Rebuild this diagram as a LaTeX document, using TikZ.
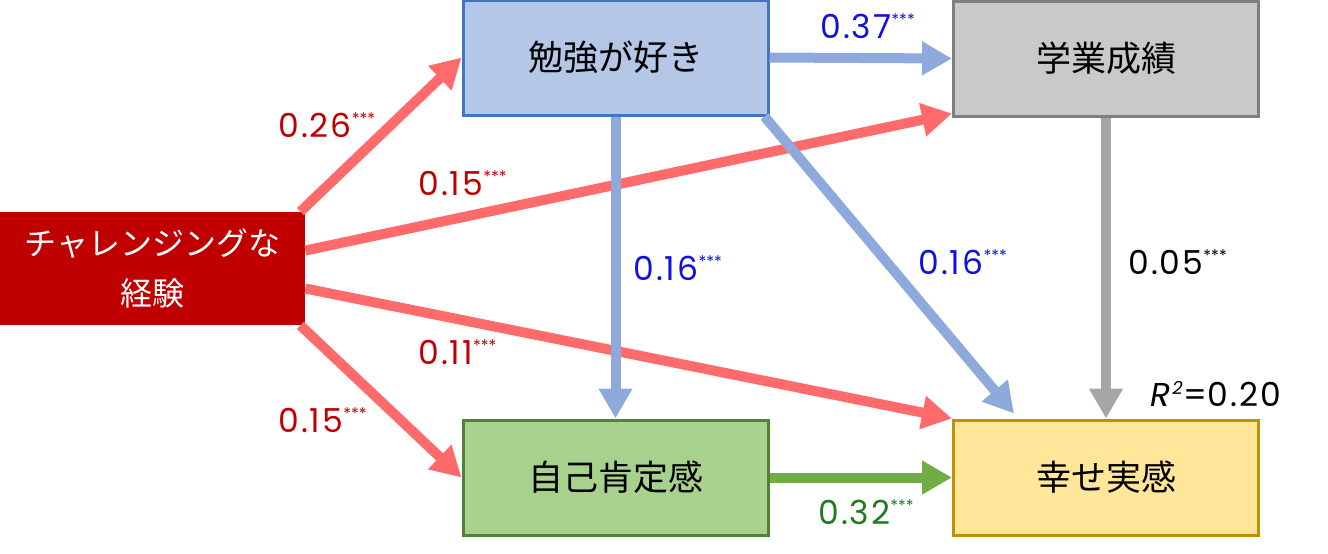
\documentclass[tikz,border=0pt]{standalone}
\usepackage{fontspec}
\setmainfont{Poppins}
\newfontfamily\jp{Noto Sans CJK JP}
\usetikzlibrary{arrows.meta,calc}
\definecolor{redbox}{HTML}{C00000}
\definecolor{redarr}{HTML}{FF6B6B}
\definecolor{bluearr}{HTML}{8EA9DB}
\definecolor{grayarr}{HTML}{A6A6A6}
\definecolor{greenarr}{HTML}{70AD47}
\definecolor{bluefill}{HTML}{B4C7E7}
\definecolor{blueline}{HTML}{4472C4}
\definecolor{grayfill}{HTML}{C9C9C9}
\definecolor{grayline}{HTML}{7F7F7F}
\definecolor{greenfill}{HTML}{A9D18E}
\definecolor{greenline}{HTML}{548235}
\definecolor{yelfill}{HTML}{FFE699}
\definecolor{yelline}{HTML}{BF9000}
\definecolor{redtxt}{HTML}{C00000}
\definecolor{bluetxt}{HTML}{1010E0}
\definecolor{greentxt}{HTML}{1E7B1E}
\tikzset{
  box/.style={draw, line width=1.5pt, minimum width=152.5pt, minimum height=57.5pt, font=\jp\fontsize{17.5}{20}\selectfont, inner sep=0pt},
  arr/.style={line width=5pt, -{Triangle[length=15pt,width=16pt]}},
  lbl/.style={font=\fontsize{16.5}{18}\selectfont\addfontfeatures{LetterSpace=6}, inner sep=0pt},
}
\newcommand{\stars}{\textsuperscript{\fontsize{8}{8}\selectfont\addfontfeatures{LetterSpace=0}***}}
\begin{document}
\begin{tikzpicture}[x=0.5pt,y=-0.5pt]
\useasboundingbox (0,0) rectangle (1328,553);
% nodes
\node[fill=redbox, text=white, minimum width=152.5pt, minimum height=56.5pt, inner sep=0pt, align=center, font=\jp\fontsize{16}{25}\selectfont] (ch) at (152.5,268.5) {チャレンジングな\\経験};
\node[box, fill=bluefill, draw=blueline] (st) at (615.5,57.5) {勉強が好き};
\node[box, fill=grayfill, draw=grayline] (gk) at (1106,58.5) {学業成績};
\node[box, fill=greenfill, draw=greenline] (jk) at (615.5,477.5) {自己肯定感};
\node[box, fill=yelfill, draw=yelline] (hp) at (1106,477.5) {幸せ実感};
% anchor coordinates
\coordinate (c1) at ($(ch.north east)+(-5,0)$);
\coordinate (c2) at ($(ch.east)+(0,-18)$);
\coordinate (c3) at ($(ch.east)+(0,20)$);
\coordinate (c4) at ($(ch.south east)+(-5,0)$);
\coordinate (gkin) at ($(gk.south west)+(0,-4)$);
\coordinate (hpin) at ($(hp.north west)+(0,0)$);
\coordinate (hpin2) at ($(hp.north west)+(62,-5)$);
\coordinate (stout) at ($(st.south east)+(-5,0)$);
% arrows
\draw[arr, redarr] (c1) -- (st.west);
\draw[arr, redarr] (c2) -- (gkin);
\draw[arr, redarr] (c3) -- (hpin);
\draw[arr, redarr] (c4) -- (jk.west);
\draw[arr, bluearr] (st.east) -- (gk.west);
\draw[arr, bluearr] (st.south) -- (jk.north);
\draw[arr, bluearr] (stout) -- (hpin2);
\draw[arr, grayarr] (gk.south) -- (hp.north);
\draw[arr, greenarr] (jk.east) -- (hp.west);
% labels
\node[lbl, text=redtxt, anchor=west] (l1) at (278,125) {0.26\stars};
\node[lbl, text=redtxt, anchor=west] (l2) at (418,183) {0.15\stars};
\node[lbl, text=redtxt, anchor=west] (l3) at (418,352) {0.11\stars};
\node[lbl, text=redtxt, anchor=west] (l4) at (278,420) {0.15\stars};
\node[lbl, text=bluetxt, anchor=west] (l5) at (820,26) {0.37\stars};
\node[lbl, text=bluetxt, anchor=west] (l6) at (633,268) {0.16\stars};
\node[lbl, text=bluetxt, anchor=west] (l7) at (918,262) {0.16\stars};
\node[lbl, text=black, anchor=west] (l8) at (1128,262) {0.05\stars};
\node[lbl, text=greentxt, anchor=west] (l9) at (818,512) {0.32\stars};
\node[lbl, text=black, anchor=west] (r2) at (1150,394) {\textit{R}\textsuperscript{\fontsize{9}{9}\selectfont\addfontfeatures{LetterSpace=0}\textit{2}}\addfontfeatures{LetterSpace=0}=\addfontfeatures{LetterSpace=6}0.20};
\end{tikzpicture}
\end{document}
